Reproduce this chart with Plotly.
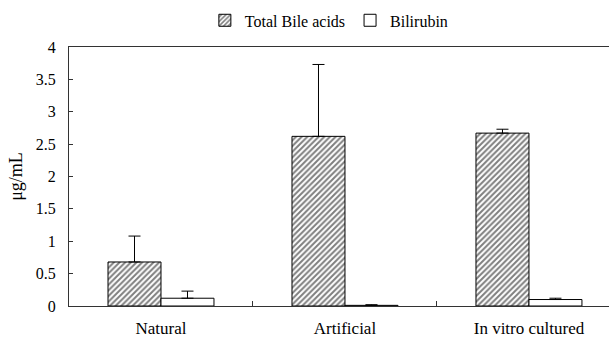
import plotly.graph_objects as go

categories = ["Natural", "Artificial", "In vitro cultured"]
tba_values = [0.68, 2.62, 2.67]
tba_errors = [0.40, 1.11, 0.06]
bil_values = [0.12, 0.01, 0.10]
bil_errors = [0.11, 0.01, 0.02]
y_ticks = [0, 0.5, 1, 1.5, 2, 2.5, 3, 3.5, 4]
y_ticktext = ["0", "0.5", "1", "1.5", "2", "2.5", "3", "3.5", "4"]

FONT = "Liberation Serif, Times New Roman, serif"

fig = go.Figure()
fig.add_trace(go.Bar(
    name="Total Bile acids", x=categories, y=tba_values,
    marker=dict(color="white", line=dict(color="black", width=1),
                pattern=dict(shape="/", fgcolor="black", bgcolor="white",
                             size=4, solidity=0.5)),
    error_y=dict(type="data", array=tba_errors, arrayminus=[0]*3, symmetric=False,
                 color="black", thickness=1, width=6),
))
fig.add_trace(go.Bar(
    name="Bilirubin", x=categories, y=bil_values,
    marker=dict(color="white", line=dict(color="black", width=1)),
    error_y=dict(type="data", array=bil_errors, arrayminus=[0]*3, symmetric=False,
                 color="black", thickness=1, width=6),
))

fig.update_layout(
    width=609, height=338,
    margin=dict(l=69, r=0, t=47, b=32),
    paper_bgcolor="white", plot_bgcolor="white",
    font=dict(family=FONT, size=16, color="black"),
    barmode="group", bargap=0.424, bargroupgap=0,
    showlegend=True,
    legend=dict(orientation="h", xref="container", yref="container",
                x=0.54, y=0.99, xanchor="center", yanchor="top",
                font=dict(family=FONT, size=16, color="black"),
                itemwidth=30, traceorder="normal"),
    xaxis=dict(range=[-0.5, 2.435], showline=True, linecolor="#333", linewidth=1,
               mirror=True, ticks="inside", tickson="boundaries", ticklen=5,
               tickcolor="#333", showgrid=False, ticklabelstandoff=7,
               automargin=False,
               tickfont=dict(family=FONT, size=17, color="black")),
    yaxis=dict(range=[0, 4], tickvals=y_ticks, ticktext=y_ticktext,
               showline=True, linecolor="#333", linewidth=1, ticks="inside",
               ticklen=4, tickcolor="#333", showgrid=False, zeroline=False,
               ticklabelstandoff=9, automargin=False,
               title=dict(text="μg/mL", font=dict(family=FONT, size=18, color="black"),
                          standoff=8),
               tickfont=dict(family=FONT, size=16, color="black")),
)

fig.write_html("out.html")
